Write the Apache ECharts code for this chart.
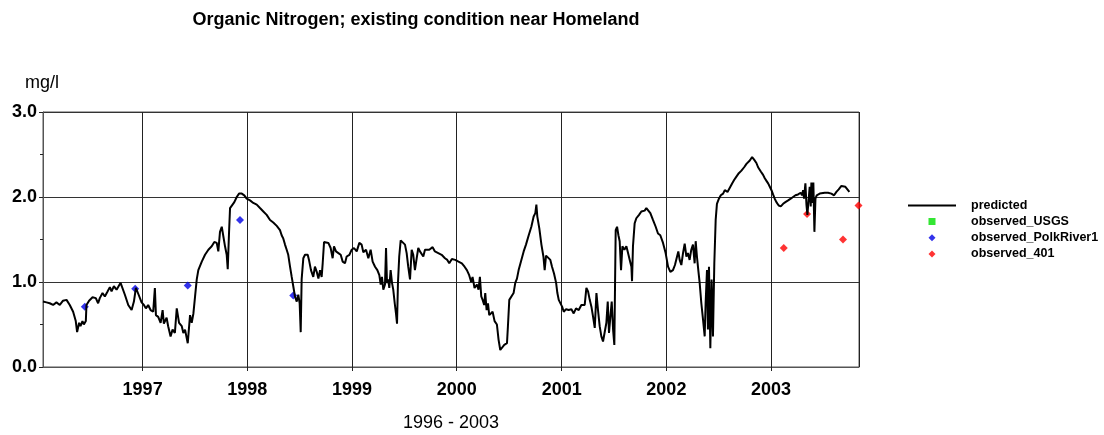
<!DOCTYPE html>
<html>
<head>
<meta charset="utf-8">
<title>Organic Nitrogen</title>
<script src="https://cdn.jsdelivr.net/npm/echarts@6/dist/echarts.min.js"></script>
<style>
  html, body { margin: 0; padding: 0; background: #fff; }
  #chart { width: 1104px; height: 435px; }
</style>
</head>
<body>
<div id="chart"></div>
<script>
// predicted series, [decimal year, mg/l]
const predicted = [
  [1996.051,0.77],[1996.084,0.76],[1996.115,0.75],[1996.147,0.73],[1996.179,0.76],[1996.211,0.73],[1996.242,0.78],[1996.275,0.79],
  [1996.306,0.73],[1996.338,0.65],[1996.363,0.54],[1996.376,0.41],[1996.395,0.52],[1996.408,0.48],[1996.427,0.54],[1996.440,0.50],
  [1996.459,0.54],[1996.465,0.73],[1996.490,0.78],[1996.523,0.82],[1996.554,0.81],[1996.576,0.75],[1996.592,0.81],[1996.618,0.87],
  [1996.640,0.83],[1996.662,0.88],[1996.688,0.94],[1996.704,0.89],[1996.726,0.95],[1996.752,0.91],[1996.767,0.93],[1996.790,0.99],
  [1996.809,0.97],[1996.831,0.85],[1996.863,0.73],[1996.895,0.67],[1996.917,0.77],[1996.936,0.93],[1996.962,0.85],[1996.990,0.76],
  [1997.012,0.73],[1997.031,0.69],[1997.053,0.73],[1997.076,0.67],[1997.101,0.65],[1997.117,0.93],[1997.127,0.61],[1997.149,0.59],
  [1997.172,0.52],[1997.191,0.67],[1997.203,0.51],[1997.229,0.58],[1997.244,0.48],[1997.267,0.36],[1997.286,0.44],[1997.308,0.40],
  [1997.326,0.69],[1997.348,0.52],[1997.374,0.48],[1997.389,0.40],[1997.405,0.44],[1997.431,0.28],[1997.444,0.30],[1997.453,0.61],
  [1997.469,0.52],[1997.485,0.63],[1997.501,0.83],[1997.517,1.03],[1997.532,1.14],[1997.565,1.24],[1997.596,1.32],[1997.628,1.38],
  [1997.660,1.42],[1997.685,1.47],[1997.708,1.46],[1997.723,1.36],[1997.739,1.59],[1997.756,1.65],[1997.771,1.63],[1997.787,1.42],
  [1997.803,1.32],[1997.813,1.15],[1997.825,1.57],[1997.835,1.87],[1997.851,1.89],[1997.876,1.94],[1997.899,2.00],[1997.921,2.04],
  [1997.947,2.04],[1997.971,2.02],[1997.994,1.98],[1998.026,1.96],[1998.057,1.93],[1998.090,1.91],[1998.121,1.87],[1998.153,1.83],
  [1998.185,1.79],[1998.217,1.73],[1998.248,1.70],[1998.281,1.66],[1998.312,1.61],[1998.328,1.55],[1998.344,1.51],[1998.360,1.44],
  [1998.376,1.38],[1998.391,1.32],[1998.408,1.18],[1998.424,1.06],[1998.439,0.95],[1998.455,0.83],[1998.472,0.77],[1998.487,0.85],
  [1998.500,0.75],[1998.510,0.41],[1998.519,1.03],[1998.535,1.28],[1998.551,1.32],[1998.577,1.32],[1998.589,1.26],[1998.608,1.14],
  [1998.630,1.06],[1998.646,1.18],[1998.663,1.12],[1998.679,1.04],[1998.695,1.14],[1998.710,1.06],[1998.720,1.22],[1998.733,1.47],
  [1998.752,1.49],[1998.774,1.46],[1998.796,1.40],[1998.815,1.28],[1998.828,1.42],[1998.847,1.36],[1998.870,1.34],[1998.892,1.32],
  [1998.911,1.24],[1998.933,1.22],[1998.949,1.30],[1998.975,1.32],[1998.997,1.38],[1999.019,1.40],[1999.045,1.36],[1999.070,1.46],
  [1999.092,1.44],[1999.108,1.35],[1999.134,1.38],[1999.156,1.28],[1999.178,1.38],[1999.197,1.24],[1999.220,1.18],[1999.242,1.14],
  [1999.261,1.08],[1999.274,0.97],[1999.286,1.06],[1999.299,0.91],[1999.315,0.97],[1999.325,1.40],[1999.334,0.99],[1999.346,1.03],
  [1999.356,0.93],[1999.369,1.14],[1999.382,0.99],[1999.394,0.91],[1999.408,0.75],[1999.420,0.63],[1999.430,0.51],[1999.439,0.99],
  [1999.451,1.30],[1999.465,1.49],[1999.484,1.49],[1999.506,1.44],[1999.522,1.34],[1999.537,1.18],[1999.554,1.03],[1999.570,1.38],
  [1999.585,1.32],[1999.601,1.14],[1999.618,1.28],[1999.633,1.40],[1999.649,1.36],[1999.665,1.38],[1999.681,1.30],[1999.697,1.38],
  [1999.713,1.36],[1999.738,1.38],[1999.770,1.41],[1999.792,1.36],[1999.824,1.34],[1999.856,1.32],[1999.888,1.28],[1999.910,1.26],
  [1999.929,1.22],[1999.954,1.27],[1999.986,1.26],[2000.017,1.24],[2000.049,1.22],[2000.075,1.18],[2000.097,1.14],[2000.119,1.08],
  [2000.138,1.00],[2000.151,1.06],[2000.170,0.93],[2000.193,0.97],[2000.208,0.91],[2000.221,1.06],[2000.234,0.83],[2000.247,0.79],
  [2000.262,0.73],[2000.272,0.87],[2000.285,0.67],[2000.298,0.75],[2000.310,0.61],[2000.329,0.59],[2000.342,0.65],[2000.361,0.54],
  [2000.383,0.50],[2000.399,0.32],[2000.415,0.20],[2000.431,0.22],[2000.453,0.26],[2000.479,0.28],[2000.488,0.48],[2000.501,0.79],
  [2000.520,0.77],[2000.542,0.87],[2000.558,0.99],[2000.574,1.04],[2000.590,1.14],[2000.616,1.26],[2000.638,1.36],[2000.660,1.44],
  [2000.686,1.55],[2000.711,1.65],[2000.733,1.77],[2000.749,1.81],[2000.759,1.91],[2000.768,1.77],[2000.787,1.63],[2000.807,1.44],
  [2000.826,1.30],[2000.838,1.14],[2000.851,1.31],[2000.870,1.29],[2000.892,1.26],[2000.908,1.18],[2000.927,1.10],[2000.947,0.99],
  [2000.959,0.87],[2000.972,0.79],[2000.988,0.77],[2001.004,0.71],[2001.020,0.65],[2001.042,0.68],[2001.067,0.67],[2001.093,0.68],
  [2001.115,0.63],[2001.137,0.69],[2001.163,0.67],[2001.188,0.73],[2001.220,0.73],[2001.236,0.93],[2001.252,0.89],[2001.268,0.79],
  [2001.284,0.71],[2001.300,0.59],[2001.316,0.46],[2001.332,0.87],[2001.347,0.67],[2001.363,0.48],[2001.379,0.36],[2001.395,0.30],
  [2001.411,0.32],[2001.427,0.52],[2001.440,0.77],[2001.452,0.40],[2001.465,0.59],[2001.478,0.77],[2001.491,0.44],[2001.503,0.26],
  [2001.510,0.99],[2001.516,1.61],[2001.529,1.65],[2001.542,1.55],[2001.554,1.48],[2001.567,1.14],[2001.580,1.42],[2001.599,1.38],
  [2001.618,1.42],[2001.634,1.34],[2001.650,1.26],[2001.666,1.18],[2001.672,1.01],[2001.681,1.42],[2001.697,1.69],[2001.713,1.75],
  [2001.739,1.79],[2001.761,1.83],[2001.793,1.84],[2001.809,1.87],[2001.828,1.87],[2001.847,1.81],[2001.872,1.73],[2001.898,1.65],
  [2001.920,1.57],[2001.942,1.55],[2001.968,1.46],[2001.993,1.34],[2002.016,1.18],[2002.038,1.12],[2002.063,1.14],[2002.082,1.20],
  [2002.101,1.22],[2002.114,1.36],[2002.127,1.26],[2002.143,1.20],[2002.159,1.34],[2002.175,1.45],[2002.191,1.30],[2002.206,1.34],
  [2002.222,1.26],[2002.238,1.38],[2002.254,1.44],[2002.270,1.22],[2002.280,1.48],[2002.292,1.30],[2002.305,1.14],[2002.318,0.99],
  [2002.334,0.75],[2002.350,0.56],[2002.366,0.36],[2002.375,0.75],[2002.388,1.14],[2002.397,0.44],[2002.407,1.18],[2002.420,0.22],
  [2002.432,1.03],[2002.445,0.36],[2002.458,1.22],[2002.471,1.73],[2002.483,1.92],[2002.502,1.98],[2002.520,2.02],[2002.542,2.04],
  [2002.558,2.08],[2002.584,2.06],[2002.606,2.11],[2002.628,2.16],[2002.647,2.20],[2002.669,2.24],[2002.692,2.28],[2002.717,2.31],
  [2002.743,2.35],[2002.765,2.39],[2002.781,2.40],[2002.797,2.43],[2002.819,2.47],[2002.838,2.44],[2002.860,2.40],[2002.876,2.35],
  [2002.902,2.30],[2002.924,2.26],[2002.940,2.22],[2002.956,2.19],[2002.972,2.16],[2002.988,2.12],[2003.004,2.08],[2003.019,2.03],
  [2003.035,1.98],[2003.051,1.94],[2003.073,1.90],[2003.093,1.89],[2003.115,1.92],[2003.137,1.94],[2003.163,1.96],[2003.188,1.98],
  [2003.210,2.00],[2003.233,2.02],[2003.258,2.03],[2003.283,2.05],[2003.296,2.02],[2003.306,2.08],[2003.315,1.98],[2003.328,2.16],
  [2003.338,1.91],[2003.347,1.79],[2003.360,1.77],[2003.369,2.12],[2003.379,1.89],[2003.385,2.17],[2003.395,1.93],[2003.404,2.17],
  [2003.414,1.59],[2003.424,1.98],[2003.436,2.02],[2003.449,2.00],[2003.465,2.04],[2003.481,2.05],[2003.513,2.05],[2003.544,2.05],
  [2003.576,2.04],[2003.602,2.02],[2003.624,2.06],[2003.646,2.09],[2003.672,2.13],[2003.691,2.14],[2003.710,2.12],[2003.729,2.10],
  [2003.748,2.06]
];

// observed samples
const usgsYears = [];
const usgsValues = [];
const polkYears = [1996.449, 1996.929, 1997.431, 1997.930, 1998.439];
const polkValues = [0.71, 0.92, 0.96, 1.73, 0.84];
const obs401Years = [2003.121, 2003.344, 2003.687, 2003.835];
const obs401Values = [1.40, 1.80, 1.50, 1.90];

const yTicks = [0, 1, 2, 3];
const xStart = 1996.051, xEnd = 2003.840;

const FONT = '"Liberation Sans", Arial, sans-serif';

// decimal year -> ms
function toTime(y) {
  const yr = Math.floor(y);
  const s = Date.UTC(yr, 0, 1), e = Date.UTC(yr + 1, 0, 1);
  return s + (y - yr) * (e - s);
}
function pairs(xs, vs) {
  return xs.map((x, i) => [toTime(x), vs[i]]);
}

var myChart = echarts.init(document.getElementById('chart'));
var option = {
  animation: false,
  useUTC: true,
  backgroundColor: '#fff',
  graphic: [
    { type: 'text', x: 416, y: 20, style: { text: 'Organic Nitrogen; existing condition near Homeland', font: 'bold 18px ' + FONT, fill: '#000', textAlign: 'center', textVerticalAlign: 'middle' } },
    { type: 'text', x: 25, y: 83, style: { text: 'mg/l', font: '18px ' + FONT, fill: '#000', textAlign: 'left', textVerticalAlign: 'middle' } },
    { type: 'text', x: 451, y: 423, style: { text: '1996 - 2003', font: '18px ' + FONT, fill: '#000', textAlign: 'center', textVerticalAlign: 'middle' } }
  ],
  grid: {
    left: 43, right: 245, top: 112, bottom: 68,
    show: true, borderColor: '#555', borderWidth: 1,
    outerBoundsMode: 'none'
  },
  legend: [
    {
      orient: 'vertical', left: 903, top: 194,
      itemWidth: 48, itemHeight: 2,
      data: [{ name: 'predicted', icon: 'rect' }],
      itemStyle: { color: '#000', borderWidth: 0 },
      textStyle: { fontFamily: FONT, fontWeight: 'bold', fontSize: 12.5, color: '#000', padding: [0, 0, 0, 10] }
    },
    {
      orient: 'vertical', left: 923.5, top: 210,
      itemWidth: 7, itemHeight: 7, itemGap: 3.2,
      data: [
        { name: 'observed_USGS', icon: 'rect' },
        { name: 'observed_PolkRiver1', icon: 'diamond' },
        { name: 'observed_401', icon: 'diamond' }
      ],
      textStyle: { fontFamily: FONT, fontWeight: 'bold', fontSize: 12.5, color: '#000', padding: [0, 0, 0, 30.5] }
    }
  ],
  xAxis: {
    type: 'time',
    min: toTime(xStart), max: toTime(xEnd),
    splitNumber: 8,
    minInterval: 365 * 864e5,
    maxInterval: 366 * 864e5,
    axisLine: { lineStyle: { color: '#555' } },
    axisTick: { show: true, length: 4, lineStyle: { color: '#222' } },
    splitLine: { show: true, lineStyle: { color: '#222', width: 1 } },
    axisLabel: {
      margin: 14, color: '#000', fontFamily: FONT, fontWeight: 'bold', fontSize: 18,
      showMinLabel: false, showMaxLabel: false,
      formatter: function (v) { return String(new Date(v).getUTCFullYear()); }
    }
  },
  yAxis: {
    type: 'value',
    min: yTicks[0], max: yTicks[yTicks.length - 1], interval: 1,
    axisLine: { show: true, lineStyle: { color: '#555' } },
    axisTick: { show: true, length: 4, lineStyle: { color: '#222' } },
    minorTick: { show: true, splitNumber: 2, length: 3, lineStyle: { color: '#222' } },
    splitLine: { show: true, lineStyle: { color: '#333', width: 1 } },
    axisLabel: {
      margin: 6, color: '#000', fontFamily: FONT, fontWeight: 'bold', fontSize: 18,
      formatter: function (v) { return v.toFixed(1); }
    }
  },
  series: [
    {
      name: 'predicted', type: 'line', symbol: 'none',
      data: predicted.map(p => [toTime(p[0]), p[1]]),
      lineStyle: { color: '#000', width: 2 }, itemStyle: { color: '#000' }
    },
    {
      name: 'observed_USGS', type: 'scatter', symbol: 'rect', symbolSize: 7,
      data: pairs(usgsYears, usgsValues), itemStyle: { color: '#00e000' }
    },
    {
      name: 'observed_PolkRiver1', type: 'scatter', symbol: 'diamond', symbolSize: 8,
      data: pairs(polkYears, polkValues), itemStyle: { color: '#0000e6' }
    },
    {
      name: 'observed_401', type: 'scatter', symbol: 'diamond', symbolSize: 8,
      data: pairs(obs401Years, obs401Values), itemStyle: { color: '#ff0000' }, clip: false
    }
  ]
};
myChart.setOption(option);
</script>
</body>
</html>
